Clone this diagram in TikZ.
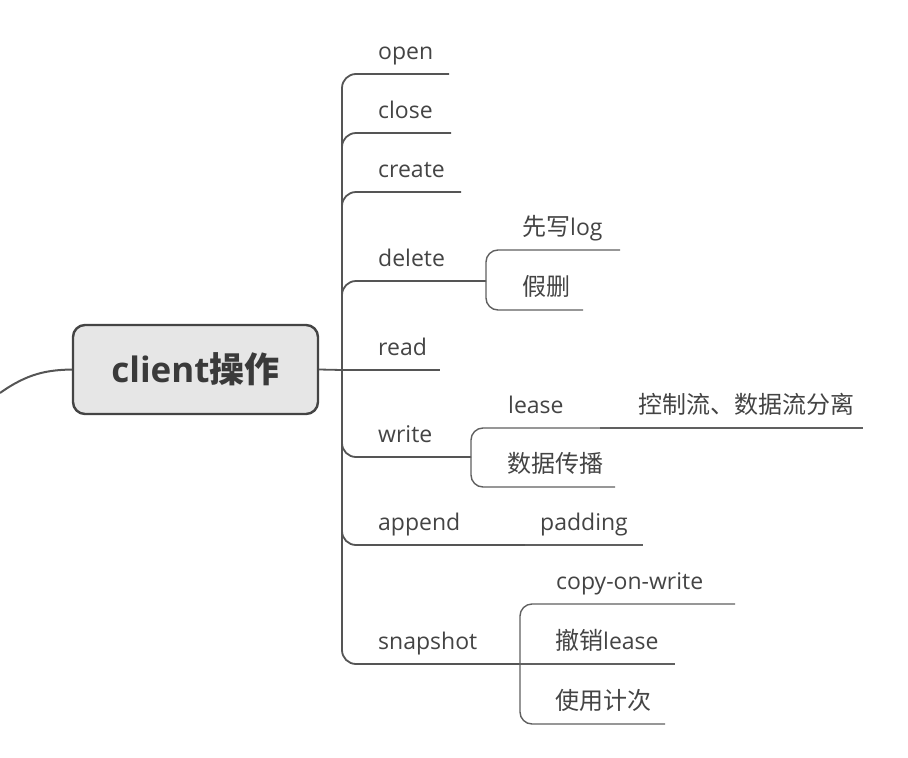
\documentclass[tikz,border=0pt]{standalone}
\usepackage{fontspec}
\setmainfont{Open Sans}
\newfontfamily\cjk{Noto Sans CJK SC}
\definecolor{txt}{HTML}{444444}
\definecolor{ln}{HTML}{555555}
\definecolor{ln2}{HTML}{606060}
\definecolor{boxfill}{HTML}{E6E6E6}
\definecolor{boxdraw}{HTML}{444444}
\newcommand\zh[1]{{\cjk\fontsize{24}{28}\selectfont #1}}
\begin{document}
\begin{tikzpicture}[x=1pt,y=-1pt,
  lbl/.style={anchor=base west, inner sep=0pt, text=txt, font=\fontsize{23}{26}\selectfont},
  trunkline/.style={draw=ln, line width=1.8pt, rounded corners=14pt},
  subline/.style={draw=ln2, line width=1.4pt, rounded corners=12pt},
  centerbox/.style={draw=boxdraw, fill=boxfill, line width=2.4pt, rounded corners=12pt,
    minimum width=245pt, minimum height=89pt, inner sep=0pt, text=txt!85!black}]
\useasboundingbox (0,0) rectangle (908,758);

\node[centerbox] (center) at (195.5,369.5) {\fontsize{35}{38}\selectfont\bfseries client{\cjk\fontsize{35}{38}\selectfont\bfseries 操作}};

\coordinate (left) at (0,393);
\draw[ln, line width=2pt] (left) .. controls (28,373) and (48,370) .. (center.west);

\coordinate (trunk) at (342,370);
\draw[trunkline] (center.east) -- (trunk);

% level 1 end points
\coordinate (open-e) at (449,74);
\coordinate (close-e) at (451,133);
\coordinate (create-e) at (461,192);
\coordinate (delJ) at (486,281);
\coordinate (read-e) at (440,370);
\coordinate (writeJ) at (471,457);
\coordinate (appendJ) at (525,545);
\coordinate (snapJ) at (520,664);

\draw[trunkline] (trunk) |- (open-e);
\draw[trunkline] (trunk) |- (close-e);
\draw[trunkline] (trunk) |- (create-e);
\draw[trunkline] (trunk) |- (delJ);
\draw[trunkline] (trunk) -- (read-e);
\draw[trunkline] (trunk) |- (writeJ);
\draw[trunkline] (trunk) |- (appendJ);
\draw[trunkline] (trunk) |- (snapJ);

\node[lbl] (open) at (378,59) {open};
\node[lbl] (close) at (378,118) {close};
\node[lbl] (create) at (378,177) {create};
\node[lbl] (delete) at (378,266) {delete};
\node[lbl] (read) at (378,355) {read};
\node[lbl] (write) at (378,442) {write};
\node[lbl] (append) at (378,530) {append};
\node[lbl] (snapshot) at (378,649) {snapshot};

% delete children
\coordinate (xx-e) at (620,250);
\coordinate (js-e) at (583,310);
\draw[subline] (delJ) |- (xx-e);
\draw[subline] (delJ) |- (js-e);
\node[lbl] (xx) at (522,235) {\zh{先写}log};
\node[lbl] (js) at (522,295) {\zh{假删}};

% write children
\coordinate (lease-e) at (600,428);
\coordinate (ctrl-e) at (863,428);
\coordinate (sjcb-e) at (615,487);
\draw[subline] (writeJ) |- (lease-e);
\draw[subline] (lease-e) -- (ctrl-e);
\draw[subline] (writeJ) |- (sjcb-e);
\node[lbl] (lease) at (508,413) {lease};
\node[lbl] (ctrl) at (638,413) {\zh{控制流、数据流分离}};
\node[lbl] (sjcb) at (507,472) {\zh{数据传播}};

% append child
\coordinate (pad-e) at (643,545);
\draw[subline] (appendJ) -- (pad-e);
\node[lbl] (pad) at (540,530) {padding};

% snapshot children
\coordinate (cow-e) at (735,604);
\coordinate (cx-e) at (675,664);
\coordinate (sy-e) at (665,724);
\draw[subline] (snapJ) |- (cow-e);
\draw[subline] (snapJ) -- (cx-e);
\draw[subline] (snapJ) |- (sy-e);
\node[lbl] (cow) at (556,589) {copy-on-write};
\node[lbl] (cx) at (555,649) {\zh{撤销}lease};
\node[lbl] (sy) at (555,709) {\zh{使用计次}};
\end{tikzpicture}
\end{document}
